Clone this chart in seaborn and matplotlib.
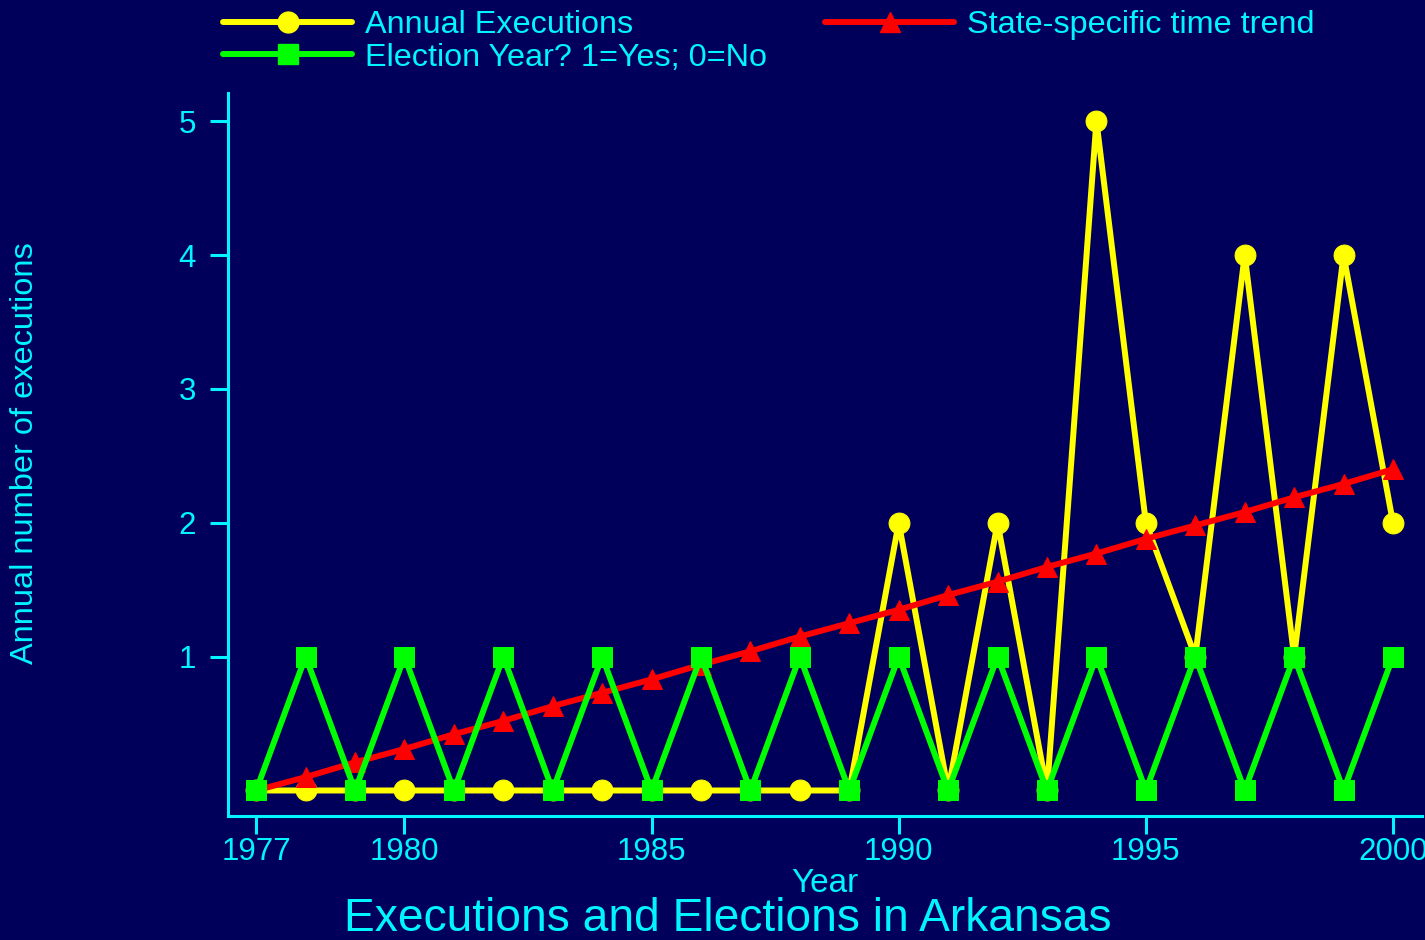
import numpy as np
import pandas as pd
import seaborn as sns
import matplotlib.pyplot as plt
from matplotlib.lines import Line2D

years = list(range(1977, 2001))
executions = [0, 0, 0, 0, 0, 0, 0, 0, 0, 0, 0, 0, 0,
              2, 0, 2, 0, 5, 2, 1, 4, 1, 4, 2]
election = [0, 1, 0, 1, 0, 1, 0, 1, 0, 1, 0, 1,
            0, 1, 0, 1, 0, 1, 0, 1, 0, 1, 0, 1]
trend = [0.00, 0.10, 0.21, 0.31, 0.42, 0.52, 0.63, 0.73, 0.83, 0.94, 1.04, 1.15,
         1.25, 1.35, 1.46, 1.56, 1.67, 1.77, 1.88, 1.98, 2.08, 2.19, 2.29, 2.40]
x_ticks = [1977, 1980, 1985, 1990, 1995, 2000]
y_ticks = [1, 2, 3, 4, 5]

bg = '#00005a'
fg = '#00f5ff'

df = pd.DataFrame({'Year': years, 'Executions': executions,
                   'Election': election, 'Trend': trend})

sns.set_style('ticks')
plt.rcParams['font.family'] = ['Liberation Sans', 'DejaVu Sans']

fig = plt.figure(figsize=(14.25, 9.4), dpi=100, facecolor=bg)
ax = fig.add_axes([0.160, 0.132, 0.838, 0.769])
ax.set_facecolor(bg)

sns.lineplot(data=df, x='Year', y='Executions', ax=ax, color='#ffff00',
             linewidth=4.3, marker='o', markersize=15, markeredgecolor='#ffff00')
sns.lineplot(data=df, x='Year', y='Trend', ax=ax, color='#ff0000',
             linewidth=4.3, marker='^', markersize=14, markeredgecolor='#ff0000')
sns.lineplot(data=df, x='Year', y='Election', ax=ax, color='#00ff00',
             linewidth=4.3, marker='s', markersize=14, markeredgecolor='#00ff00')

ax.set_xlim(1976.43, 2000.59)
ax.set_ylim(-0.19, 5.21)
ax.set_xticks(x_ticks)
ax.set_yticks(y_ticks)
ax.tick_params(axis='both', colors=fg, labelcolor=fg, labelsize=22.5,
               width=2.2, length=13, direction='out')
ax.tick_params(axis='x', pad=2)
ax.tick_params(axis='y', pad=10)
sns.despine(ax=ax)
for side in ['left', 'bottom']:
    ax.spines[side].set_color(fg)
    ax.spines[side].set_linewidth(2.2)

ax.set_xlabel('Year', color=fg, fontsize=24)
ax.set_ylabel('Annual number of executions', color=fg, fontsize=23.4)
ax.xaxis.set_label_coords(0.5, -0.072)
ax.yaxis.set_label_coords(-0.1575, 0.502)

fig.text(0.511, 0.022, 'Executions and Elections in Arkansas', color=fg,
         fontsize=33.2, ha='center', va='center')

handles = [
    Line2D([], [], color='#ffff00', lw=4.3, marker='o', markersize=15),
    Line2D([], [], color='#00ff00', lw=4.3, marker='s', markersize=14),
    Line2D([], [], color='#ff0000', lw=4.3, marker='^', markersize=14),
]
labels = ['Annual Executions', 'Election Year? 1=Yes; 0=No',
          'State-specific time trend']
leg = fig.legend(handles, labels, loc='upper left', ncol=2,
                 bbox_to_anchor=(223 / 1425, 1 - 10 / 940), frameon=False,
                 fontsize=23.3, handlelength=4.0, handletextpad=0.38,
                 columnspacing=1.8, labelspacing=0.08, borderpad=0,
                 borderaxespad=0)
for t in leg.get_texts():
    t.set_color(fg)

fig.savefig('out.png', dpi=100, facecolor=bg)
